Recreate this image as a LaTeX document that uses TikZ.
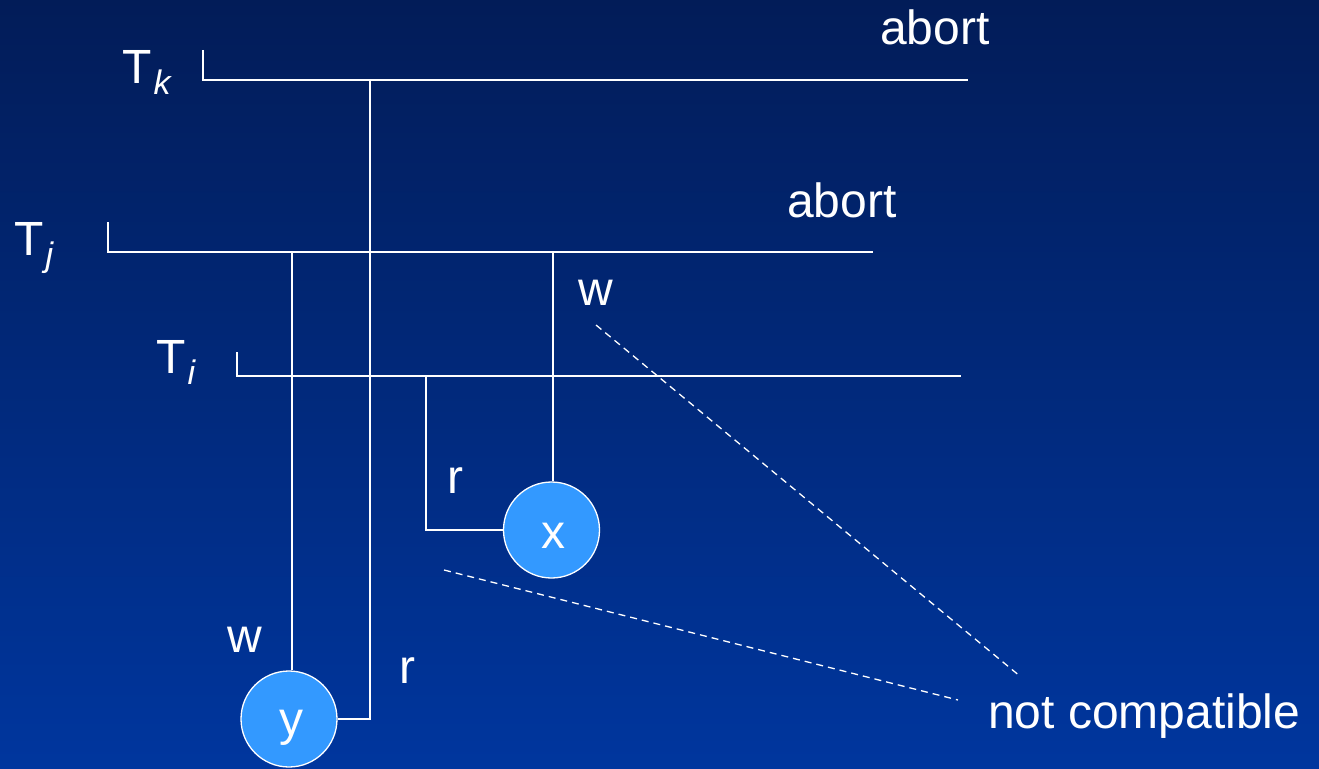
\documentclass[tikz,border=0pt]{standalone}
\usepackage{fontspec}
\setmainfont{Liberation Sans}
\definecolor{bgtop}{RGB}{2,28,88}
\definecolor{bgbot}{RGB}{0,54,158}
\definecolor{objblue}{RGB}{51,153,255}
\newcommand{\tsub}[1]{T\hspace{2pt}\raisebox{-11pt}{\fontsize{34}{40}\selectfont\itshape #1}}
\begin{document}
\begin{tikzpicture}[x=1pt,y=-1pt,
  every node/.style={text=white, font=\fontsize{48}{58}\selectfont, inner sep=0pt},
  tl/.style={draw=white, line width=1.6pt},
  dsh/.style={draw=white, line width=1.3pt, dash pattern=on 7pt off 5pt},
  obj/.style={circle, fill=objblue, draw=white, line width=1.3pt, minimum size=96pt, inner sep=0pt}]
\useasboundingbox (0,0) rectangle (1319,768);
\shade[top color=bgtop, bottom color=bgbot] (0,0) rectangle (1319,768);

% transaction labels
\node[anchor=base west] (lk) at (122,83) {\tsub{k}};
\node[anchor=base west] (lj) at (14,255) {\tsub{j}};
\node[anchor=base west] (li) at (156,373) {\tsub{i}};
\node[anchor=base] (ab1) at (935,45) {abort};
\node[anchor=base] (ab2) at (842,217) {abort};

% objects
\node[obj] (nx) at (551.5,530) {};
\node[obj] (ny) at (289,719) {};
\node[anchor=base] (tx) at (553,548) {x};
\node[anchor=base] (ty) at (291,735) {y};

% timeline coordinates
\coordinate (k0) at (203,50);  \coordinate (ks) at (203,80);  \coordinate (ke) at (968,80);
\coordinate (j0) at (108,222); \coordinate (js) at (108,252); \coordinate (je) at (873,252);
\coordinate (i0) at (237,352); \coordinate (is) at (237,376); \coordinate (ie) at (961,376);
\coordinate (k1) at (370,80);
\coordinate (j1) at (292,252);
\coordinate (j2) at (553,252);
\coordinate (i1) at (426,376);

\draw[tl] (k0) -- (ks) -- (ke);
\draw[tl] (j0) -- (js) -- (je);
\draw[tl] (i0) -- (is) -- (ie);

\draw[tl] (k1) |- (ny.east);
\draw[tl] (j1) -- (j1 |- ny.north);
\draw[tl] (j2) -- (j2 |- nx.north);
\draw[tl] (i1) |- (nx.west);

% access labels
\node[anchor=base] (w1) at (596,305) {w};
\node[anchor=base] (r1) at (455,493) {r};
\node[anchor=base] (w2) at (245,652) {w};
\node[anchor=base] (r2) at (407,683) {r};

% not compatible
\node[anchor=base west] (nc) at (988,728) {not compatible};
\coordinate (d1a) at (596,325); \coordinate (d1b) at (1021,677);
\coordinate (d2a) at (444,570); \coordinate (d2b) at (958,700);
\draw[dsh] (d1a) -- (d1b);
\draw[dsh] (d2a) -- (d2b);
\end{tikzpicture}
\end{document}
